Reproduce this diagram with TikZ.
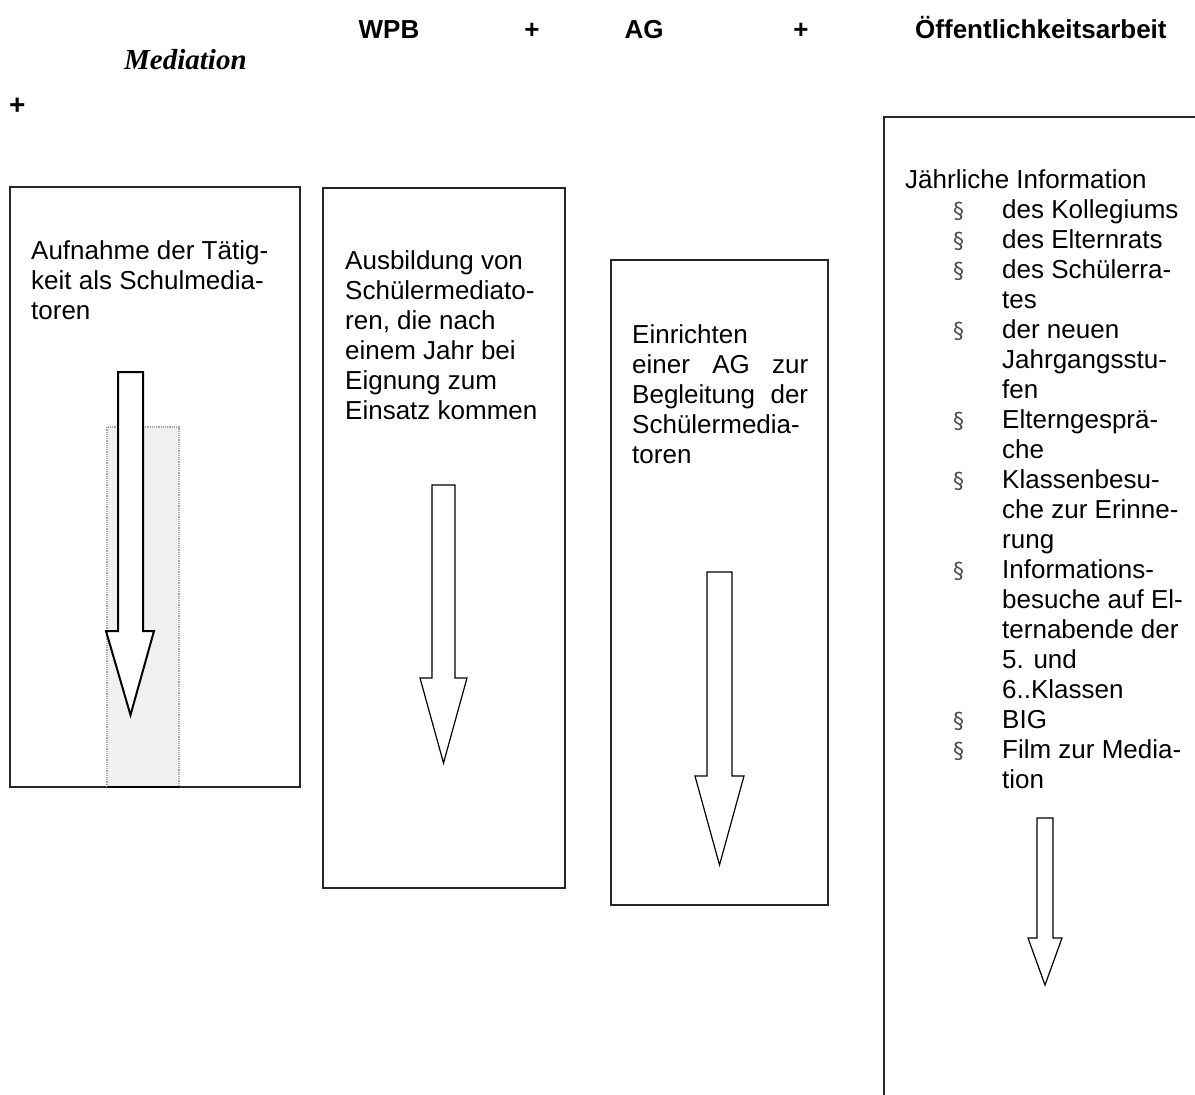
\documentclass[tikz,border=0pt]{standalone}
\usepackage{fontspec}
\setmainfont{Liberation Sans}
\newfontfamily\medfont{Liberation Serif}
\newfontfamily\parfont{DejaVu Sans}
\newcommand\bxitem{\hspace*{48pt}\makebox[49pt][l]{\parfont\fontsize{22}{22}\selectfont\textcolor{black!70}{§}}}
\newcommand\bxcont{\hspace*{97pt}}
\begin{document}
\begin{tikzpicture}[x=1pt,y=-1pt,
  boxline/.style={draw=black!85, line width=2pt},
  body/.style={font=\fontsize{26}{30}\selectfont, inner sep=0pt, anchor=north west, align=left},
  head/.style={font=\bfseries\fontsize{26}{30}\selectfont, inner sep=0pt, anchor=base},
  fatarrow/.style={draw=black, fill=white, line width=1.2pt, line join=miter},
]
\useasboundingbox (0,0) rectangle (1195,1095);
\clip (0,0) rectangle (1195,1095);
\fill[white] (0,0) rectangle (1195,1095);

% header
\node[head] (wpb) at (389,38) {WPB};
\node[head] (plusa) at (532,38) {+};
\node[head] (ag) at (644,38) {AG};
\node[head] (plusb) at (801,38) {+};
\node[head, anchor=base west] (oeff) at (915,38) {Öffentlichkeitsarbeit};
\node[font=\medfont\bfseries\itshape\fontsize{29}{32}\selectfont, inner sep=0pt, anchor=base west] (med) at (124,69) {Mediation};
\node[font=\bfseries\fontsize{28}{30}\selectfont, inner sep=0pt, anchor=base west] (plusc) at (9,114) {+};

% box 1
\draw[boxline] (10,187) rectangle (300,787);
\fill[gray!12] (107,427) rectangle (179,787);
\draw[gray!70, densely dotted, line width=1.2pt] (107,787) -- (107,427) -- (179,427) -- (179,787);
\draw[line width=2.5pt] (107,787) -- (179,787);
\node[body] (t1) at (31,234) {\rule{0pt}{25pt}Aufnahme der Tätig-\\keit als Schulmedia-\\toren};
\draw[fatarrow, line width=2pt] (118,372) -- (143,372) -- (143,631) -- (154,631) -- (130.5,715) -- (106,631) -- (118,631) -- cycle;

% box 2
\draw[boxline] (323,188) rectangle (565,888);
\node[body] (t2) at (345,244) {\rule{0pt}{25pt}Ausbildung von\\Schülermediato-\\ren, die nach\\einem Jahr bei\\Eignung zum\\Einsatz kommen};
\draw[fatarrow] (432,485) -- (455,485) -- (455,678) -- (467,678) -- (443.5,763) -- (420,678) -- (432,678) -- cycle;

% box 3
\draw[boxline] (611,260) rectangle (828,905);
\node[body] (t3) at (632,318) {\rule{0pt}{25pt}Einrichten\\\makebox[176pt][s]{einer AG zur}\\\makebox[176pt][s]{Begleitung der}\\Schülermedia-\\toren};
\draw[fatarrow] (707,572) -- (732,572) -- (732,776) -- (744,776) -- (719.5,865) -- (695,776) -- (707,776) -- cycle;

% box 4
\draw[boxline] (1210,117) -- (884,117) -- (884,1110);
\node[body] (t4) at (905,163) {\rule{0pt}{25pt}Jährliche Information\\
\bxitem des Kollegiums\\
\bxitem des Elternrats\\
\bxitem des Schülerra-\\
\bxcont tes\\
\bxitem der neuen\\
\bxcont Jahrgangsstu-\\
\bxcont fen\\
\bxitem Elterngesprä-\\
\bxcont che\\
\bxitem Klassenbesu-\\
\bxcont che zur Erinne-\\
\bxcont rung\\
\bxitem Informations-\\
\bxcont besuche auf El-\\
\bxcont ternabende der\\
\bxcont 5. und\\
\bxcont 6..Klassen\\
\bxitem BIG\\
\bxitem Film zur Media-\\
\bxcont tion};
\draw[fatarrow] (1037,818) -- (1053,818) -- (1053,938) -- (1062,938) -- (1045,985) -- (1028,938) -- (1037,938) -- cycle;
\end{tikzpicture}
\end{document}
